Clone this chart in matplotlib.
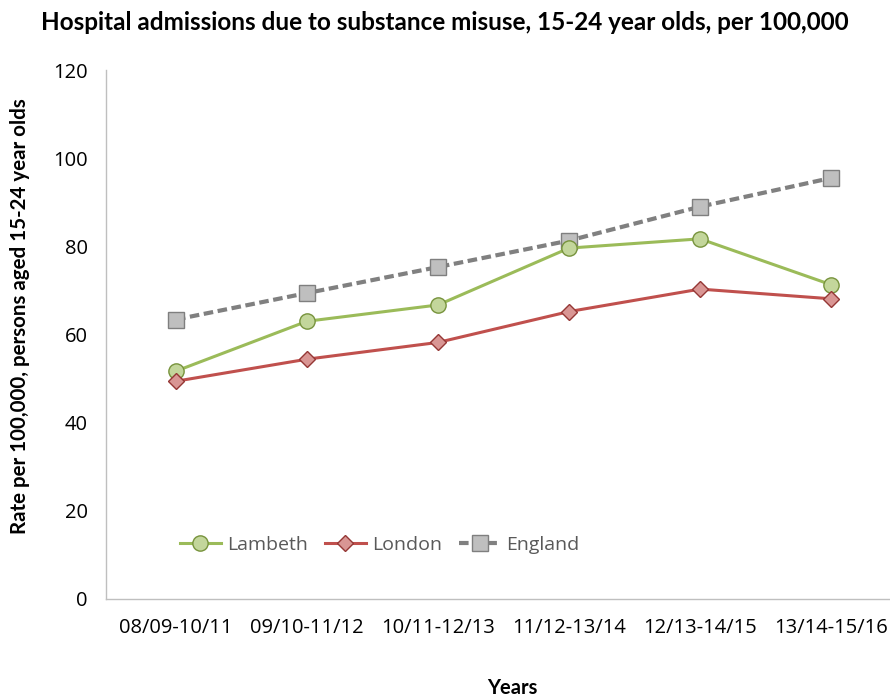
import matplotlib
matplotlib.use("Agg")
import matplotlib.pyplot as plt

periods = ["08/09-10/11", "09/10-11/12", "10/11-12/13", "11/12-13/14", "12/13-14/15", "13/14-15/16"]
lambeth = [51.7, 63.0, 66.7, 79.6, 81.7, 71.3]
london = [49.4, 54.4, 58.2, 65.2, 70.3, 68.1]
england = [63.4, 69.4, 75.3, 81.3, 89.0, 95.5]

plt.rcParams["font.family"] = ["Open Sans", "DejaVu Sans"]
BOLD = ["Lato", "DejaVu Sans"]

fig = plt.figure(figsize=(8.9, 6.97), dpi=100)
W, H = 890, 697
ax = fig.add_axes([106 / W, 1 - 599 / H, 784 / W, (599 - 70) / H])

x = list(range(len(periods)))
ax.plot(x, lambeth, color="#9BBB59", lw=2.2, marker="o", ms=11,
        mfc="#C3D69B", mec="#77933C", mew=1.0, label="Lambeth", zorder=3)
ax.plot(x, london, color="#C0504D", lw=2.2, marker="D", ms=8.5,
        mfc="#D99694", mec="#953735", mew=1.0, label="London", zorder=3)
ax.plot(x, england, color="#808080", lw=3, ls=(0, (2.3, 1.1)), marker="s", ms=11,
        mfc="#BFBFBF", mec="#7F7F7F", mew=1.0, label="England", zorder=2)

ax.set_xlim(-0.534, 5.45)
ax.set_ylim(0, 120)
ax.set_yticks(range(0, 121, 20))
ax.set_xticks(x)
ax.set_xticklabels(periods)
ax.tick_params(length=0, labelsize=14.5, colors="#000000")
ax.tick_params(axis="x", pad=14)
ax.tick_params(axis="y", pad=13)
for s in ("top", "right"):
    ax.spines[s].set_visible(False)
for s in ("left", "bottom"):
    ax.spines[s].set_color("#BFBFBF")
    ax.spines[s].set_linewidth(1.0)

fig.text(445 / W, 1 - 22 / H, "Hospital admissions due to substance misuse, 15-24 year olds, per 100,000",
         ha="center", va="center", fontsize=17.5, fontweight="bold", family=BOLD)
fig.text(20 / W, 1 - 316 / H, "Rate per 100,000, persons aged 15-24 year olds",
         ha="center", va="center", rotation=90, fontsize=14.8, fontweight="bold", family=BOLD)
fig.text(512 / W, 1 - 688 / H, "Years", ha="center", va="center", fontsize=14.5,
         fontweight="bold", family=BOLD)

leg = ax.legend(loc="center left", bbox_to_anchor=(74 / 784, (599 - 545) / 529), ncol=3,
                frameon=False, fontsize=14, handlelength=2.1, columnspacing=0.9,
                handletextpad=0.3, borderaxespad=0, borderpad=0)
for t in leg.get_texts():
    t.set_color("#595959")

fig.savefig("out.png", dpi=100)
